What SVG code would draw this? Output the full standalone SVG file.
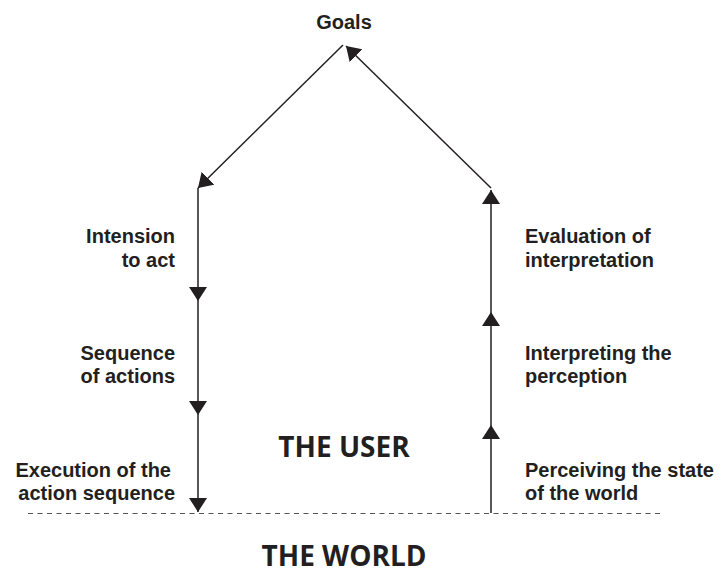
<svg xmlns="http://www.w3.org/2000/svg" width="721" height="573" viewBox="0 0 721 573">
<style>
.lbl{font-family:"Liberation Sans",Arial,sans-serif;font-weight:bold;font-size:20px;fill:#231f20}
.big{font-family:"Open Sans","Liberation Sans",sans-serif;font-weight:bold;font-size:28px;fill:#231f20}
.ln{stroke:#231f20;stroke-width:1.5;fill:none;marker-end:url(#ah)}
.dash{stroke:#555;stroke-width:1;stroke-dasharray:5 4.5;fill:none}
</style>
<defs>
<marker id="ah" markerUnits="userSpaceOnUse" markerWidth="15" markerHeight="19" refX="14" refY="9" orient="auto">
<path d="M0,0 L14,9 L0,18 z" fill="#231f20"/>
</marker>
</defs>
<rect width="721" height="573" fill="#fff"/>
<g id="connectors">
<line class="ln" x1="343" y1="45" x2="198" y2="188"/>
<line class="ln" x1="491" y1="188" x2="346" y2="46"/>
<line class="ln" x1="198" y1="188" x2="198" y2="301"/>
<line class="ln" x1="198" y1="301" x2="198" y2="415"/>
<line class="ln" x1="198" y1="415" x2="198" y2="512"/>
<line class="ln" x1="491" y1="513" x2="491" y2="425"/>
<line class="ln" x1="491" y1="425" x2="491" y2="312"/>
<line class="ln" x1="491" y1="312" x2="491" y2="190"/>
<line class="dash" x1="28" y1="513.5" x2="660" y2="513.5"/>
</g>
<g id="goals"><text class="lbl" x="344" y="29" text-anchor="middle">Goals</text></g>
<g id="intension"><text class="lbl" text-anchor="end"><tspan x="175" y="243">Intension</tspan><tspan x="175" y="267">to act</tspan></text></g>
<g id="sequence"><text class="lbl" text-anchor="end"><tspan x="175" y="360">Sequence</tspan><tspan x="175" y="383">of actions</tspan></text></g>
<g id="execution"><text class="lbl" text-anchor="end"><tspan x="171" y="477">Execution of the</tspan><tspan x="175" y="500">action sequence</tspan></text></g>
<g id="evaluation"><text class="lbl"><tspan x="525" y="243">Evaluation of</tspan><tspan x="525" y="267">interpretation</tspan></text></g>
<g id="interpreting"><text class="lbl"><tspan x="525" y="360">Interpreting the</tspan><tspan x="525" y="383">perception</tspan></text></g>
<g id="perceiving"><text class="lbl"><tspan x="525" y="477">Perceiving the state</tspan><tspan x="525" y="500">of the world</tspan></text></g>
<g id="user"><text class="big" x="344" y="457" text-anchor="middle">THE USER</text></g>
<g id="world"><text class="big" x="344" y="566" text-anchor="middle">THE WORLD</text></g>
</svg>
